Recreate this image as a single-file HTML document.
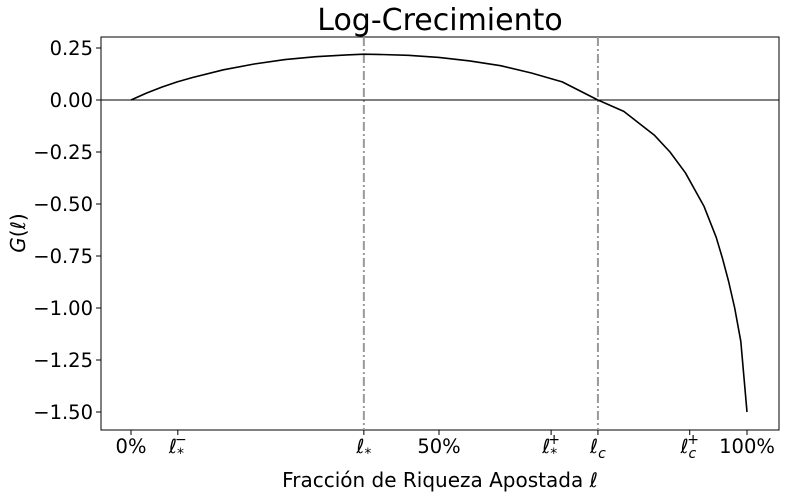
<!DOCTYPE html>
<html><head><meta charset="utf-8"><style>
html,body{margin:0;padding:0;background:#fff;}
svg{display:block;font-family:"DejaVu Sans","Liberation Sans",sans-serif;}
</style></head><body>
<svg id="chart" width="789" height="499">
<text x="440" y="30" font-size="30" text-anchor="middle">Log-Crecimiento</text>
<rect x="101" y="37" width="678" height="393" fill="none" stroke="#000" stroke-width="1"/>
<g id="yticks"></g>
<g id="xticks"></g>
<g id="marks"></g>
<text x="440" y="487" font-size="20" text-anchor="middle">Fracción de Riqueza Apostada <tspan font-style="italic">ℓ</tspan></text>
<text transform="translate(25,233) rotate(-90)" font-size="20" text-anchor="middle"><tspan font-style="italic">G</tspan>(<tspan font-style="italic">ℓ</tspan>)</text>
</svg>
<script>
const lVals=[0,0.025,0.05,0.075,0.1,0.15,0.2,0.25,0.3,0.35,0.378,0.4,0.45,0.5,0.55,0.6,0.65,0.7,0.758,0.8,0.85,0.875,0.9,0.93,0.95,0.96,0.97,0.98,0.99,1.0];
const gVals=[0,0.033,0.062,0.087,0.108,0.145,0.173,0.194,0.208,0.217,0.22,0.219,0.215,0.205,0.188,0.165,0.13,0.087,0,-0.055,-0.17,-0.25,-0.35,-0.51,-0.66,-0.76,-0.87,-1.0,-1.16,-1.5];
const yTicks=[0.25,0,-0.25,-0.5,-0.75,-1.0,-1.25,-1.5];
const yTickLabels=["0.25","0.00","−0.25","−0.50","−0.75","−1.00","−1.25","−1.50"];
const xTickVals=[0,0.076,0.378,0.5,0.682,0.758,0.907,1.0];
const xTickLabels=[["0%"],["ℓ","*","−"],["ℓ","*",""],["50%"],["ℓ","*","+"],["ℓ","c",""],["ℓ","c","+"],["100%"]];
const vLines=[0.378,0.758];

const NS="http://www.w3.org/2000/svg";
const X=v=>131+v*616;
const Y=v=>100-v*208;
function mk(t,a,p){const e=document.createElementNS(NS,t);for(const k in a)e.setAttribute(k,a[k]);p.appendChild(e);return e;}
const yt=document.getElementById('yticks'),xt=document.getElementById('xticks'),mg=document.getElementById('marks');
yTicks.forEach((v,i)=>{
 const t=mk('line',{x1:96,x2:101,y1:Y(v),y2:Y(v),stroke:'#000'},yt);
 
 
 const l=mk('text',{x:93,y:Y(v)+7,'font-size':19.5,'text-anchor':'end'},yt);
 l.textContent=yTickLabels[i];
 
 
});
xTickVals.forEach((v,i)=>{
 const t=mk('line',{x1:X(v),x2:X(v),y1:430,y2:435,stroke:'#000'},xt);
 
 
 const lab=xTickLabels[i];
 const l=mk('text',{x:X(v),y:453,'font-size':19.5,'text-anchor':'middle'},xt);
 
 
 if(lab.length===1){l.textContent=lab[0];}
 else{
  const a=mk('tspan',{'font-style':'italic'},l);a.textContent=lab[0];
  const b=mk('tspan',{'font-size':14,dy:5,'font-style':lab[1]==='c'?'italic':'normal'},l);b.textContent=lab[1];
  if(lab[2]){const c=mk('tspan',{'font-size':14,dx:-9,dy:-14},l);c.textContent=lab[2];}
 }
});
vLines.forEach(v=>{
 const l=mk('line',{x1:X(v),x2:X(v),y1:37,y2:430,stroke:'#999','stroke-width':2,'stroke-dasharray':'9,3,2,3'},mg);
 
 
});
const zl=mk('line',{x1:101,x2:779,y1:Y(0),y2:Y(0),stroke:'#000','stroke-width':1},mg);


const pts=lVals.map((v,i)=>X(v).toFixed(1)+','+Y(gVals[i]).toFixed(1)).join(' ');
const pl=mk('polyline',{points:pts,fill:'none',stroke:'#000','stroke-width':1.6,'stroke-linejoin':'round'},mg);


</script>
</body></html>
